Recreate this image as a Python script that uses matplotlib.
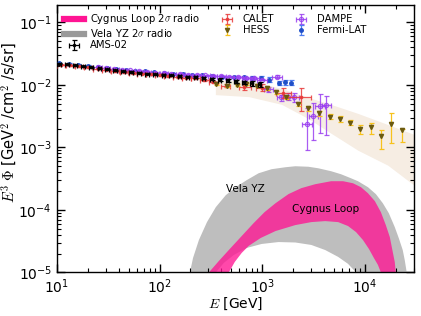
import numpy as np
import matplotlib
matplotlib.use("Agg")
from matplotlib import pyplot as plt
from matplotlib.lines import Line2D

plt.rcParams['mathtext.fontset'] = 'cm'
plt.rcParams['font.family'] = 'DejaVu Sans'

# ---- radio bands (E in GeV, E^3 Phi in GeV^2/cm^2/s/sr) ----
vela_hi_E = [198, 212, 242, 290, 354, 442, 553, 706, 923, 1233, 1686, 2105, 2813, 3517,
             4698, 5870, 7330, 8570, 10720, 12800, 14960, 17100, 19550, 21380, 23380, 24450, 25570]
vela_hi = [1.0e-5, 1.7e-5, 3.3e-5, 6.38e-5, 1.11e-4, 1.72e-4, 2.31e-4, 2.99e-4, 3.86e-4,
           4.48e-4, 4.82e-4, 5.0e-4, 4.91e-4, 4.64e-4, 4.16e-4, 3.72e-4, 3.21e-4, 2.88e-4,
           2.31e-4, 1.79e-4, 1.28e-4, 8.89e-5, 5.32e-5, 3.55e-5, 2.28e-5, 1.58e-5, 1.0e-5]
vela_lo_E = [354, 423, 529, 706, 987, 1442, 2105, 3008, 4110, 5495, 6860, 8200]
vela_lo = [1.0e-5, 1.42e-5, 1.9e-5, 2.46e-5, 2.85e-5, 3.06e-5, 3.01e-5, 2.75e-5, 2.28e-5,
           1.77e-5, 1.37e-5, 1.0e-5]

cyg_hi_E = [303, 378, 473, 632, 826, 1055, 1349, 1803, 2405, 3289, 4698, 6140, 7670, 9170,
            10720, 12530, 14320, 16000, 17500, 18700, 19550, 20000]
cyg_hi = [1.0e-5, 1.52e-5, 2.28e-5, 3.82e-5, 6.15e-5, 9.22e-5, 1.28e-4, 1.79e-4, 2.23e-4,
          2.58e-4, 2.88e-4, 2.88e-4, 2.67e-4, 2.31e-4, 1.85e-4, 1.38e-4, 9.22e-5, 5.72e-5,
          3.68e-5, 2.12e-5, 1.47e-5, 1.0e-5]
cyg_lo_E = [473, 541, 632, 738, 966, 1349, 2105, 3008, 4110, 5495, 6860, 8200, 9580, 10960,
            12250, 13400, 14320]
cyg_lo = [1.0e-5, 1.47e-5, 2.05e-5, 2.65e-5, 3.55e-5, 4.59e-5, 5.72e-5, 6.38e-5, 6.62e-5,
          6.38e-5, 5.52e-5, 4.42e-5, 3.3e-5, 2.37e-5, 1.7e-5, 1.32e-5, 1.0e-5]

# ---- HESS systematic band ----
hess_band_E = [350, 740, 1540, 2810, 4400, 8570, 16700, 30000]
hess_band_hi = [0.0118, 0.0118, 8.8e-3, 6.3e-3, 5.05e-3, 3.5e-3, 2.33e-3, 1.62e-3]
hess_band_lo = [7.0e-3, 6.5e-3, 4.9e-3, 2.9e-3, 1.8e-3, 9.0e-4, 5.2e-4, 2.5e-4]

# ---- AMS-02 ----
ams_E = [10.5, 12.5, 15, 18, 21.5, 26, 31, 37, 44, 53, 63, 76, 91, 109, 130, 156, 187,
         224, 268, 321, 384, 460, 550, 660, 790, 945]
ams_F = [2.20, 2.13, 2.06, 1.99, 1.92, 1.85, 1.78, 1.72, 1.66, 1.61, 1.56, 1.52, 1.48,
         1.45, 1.42, 1.39, 1.36, 1.33, 1.30, 1.26, 1.22, 1.18, 1.14, 1.10, 1.06, 1.02]
ams_rel = [0.02] * 14 + [0.025, 0.025, 0.03, 0.03, 0.035, 0.04, 0.045, 0.05, 0.06, 0.07, 0.08, 0.1]

# ---- CALET ----
calet_E = [11, 13.5, 16.5, 20, 25, 30, 37, 45, 55, 67, 82, 100, 122, 150, 183, 224, 274,
           335, 440, 660, 1000, 1610, 2400]
calet_F = [2.12, 2.05, 1.98, 1.91, 1.83, 1.76, 1.69, 1.63, 1.57, 1.52, 1.47, 1.43, 1.39,
           1.35, 1.31, 1.27, 1.20, 1.12, 0.98, 0.92, 0.90, 0.73, 0.63]
calet_lo = [0.97 * f for f in calet_F[:18]] + [0.92, 0.84, 0.80, 0.61, 0.39]
calet_hi = [1.03 * f for f in calet_F[:18]] + [1.04, 1.00, 1.02, 0.89, 0.88]
calet_Elo = [0.91 * e for e in calet_E[:18]] + [400, 590, 870, 1377, 1800]
calet_Ehi = [1.10 * e for e in calet_E[:18]] + [490, 770, 1150, 1928, 3000]

# ---- HESS ----
hess_E = [354, 452, 565, 690, 882, 1104, 1378, 1722, 2249, 2813, 3593, 4595, 5745,
          7180, 8980, 11460, 14320, 17900, 22860]
hess_F = [0.0105, 0.0098, 0.0101, 0.0105, 0.0098, 0.0088, 0.0076, 0.0063, 0.0049,
          0.0042, 0.0035, 0.0031, 0.0029, 0.0025, 0.0020, 0.0021, 0.0015, 0.0024, 0.0019]
hess_lo = [0.0101, 0.0094, 0.0097, 0.0101, 0.0094, 0.0084, 0.0072, 0.0060, 0.0046,
           0.0039, 0.0032, 0.0028, 0.0026, 0.00225, 0.00166, 0.00166, 0.00096, 0.00117, 0.00122]
hess_hi = [0.0109, 0.0102, 0.0105, 0.0109, 0.0102, 0.0092, 0.0080, 0.0066, 0.0052,
           0.0045, 0.0038, 0.0034, 0.0032, 0.00275, 0.00225, 0.00249, 0.00192, 0.00354, 0.0020]

# ---- DAMPE ----
dampe_E = [25, 30, 36, 43, 52, 63, 75, 91, 110, 130, 160, 190, 230, 280, 330, 400, 480,
           580, 700, 840, 1000, 1150, 1400, 1540, 1780, 2050, 2740, 3160, 3650, 4220]
dampe_F = [1.93e-2, 1.87e-2, 1.81e-2, 1.76e-2, 1.71e-2, 1.66e-2, 1.62e-2, 1.58e-2, 1.55e-2,
           1.52e-2, 1.49e-2, 1.46e-2, 1.44e-2, 1.42e-2, 1.40e-2, 1.38e-2, 1.36e-2, 1.33e-2,
           1.30e-2, 1.28e-2, 1.22e-2, 8.5e-3, 1.36e-2, 6.3e-3, 6.5e-3, 6.3e-3, 2.33e-3,
           3.13e-3, 4.53e-3, 4.69e-3]
dampe_lo = [0.97 * f for f in dampe_F[:21]] + [7.8e-3, 1.28e-2, 5.6e-3, 5.7e-3, 5.3e-3,
                                                9.0e-4, 1.30e-3, 1.68e-3, 1.56e-3]
dampe_hi = [1.03 * f for f in dampe_F[:21]] + [9.2e-3, 1.44e-2, 7.0e-3, 7.3e-3, 7.3e-3,
                                                4.21e-3, 5.05e-3, 7.29e-3, 6.77e-3]

# ---- Fermi-LAT ----
fermi_E = [10.5, 13, 16, 20, 25, 31, 38, 47, 58, 72, 89, 110, 136, 168, 208, 257, 324,
           405, 529, 661, 789, 966, 1154, 1442, 1686, 1928]
fermi_F = [2.24, 2.17, 2.10, 2.03, 1.96, 1.89, 1.82, 1.76, 1.70, 1.65, 1.60, 1.56, 1.52,
           1.48, 1.45, 1.42, 1.39, 1.36, 1.34, 1.32, 1.31, 1.30, 1.22, 1.09, 1.10, 1.09]
fermi_rel = [0.02] * 16 + [0.03, 0.03, 0.04, 0.05, 0.06, 0.07, 0.08, 0.08, 0.09, 0.1]


def asym(v, lo, hi):
    v = np.asarray(v)
    return [v - np.asarray(lo), np.asarray(hi) - v]


fig = plt.figure(figsize=(4.21, 3.16), dpi=100)
ax = fig.add_axes([0.135, 0.138, 0.848, 0.846])
ax.set_xscale('log')
ax.set_yscale('log')

# radio bands
ax.fill(list(vela_hi_E) + vela_lo_E[::-1], list(vela_hi) + vela_lo[::-1],
        color='#bebebe', lw=0, zorder=1)
ax.fill(list(cyg_hi_E) + cyg_lo_E[::-1], list(cyg_hi) + cyg_lo[::-1],
        color='deeppink', alpha=0.78, lw=0, zorder=2)
ax.text(690, 2.2e-4, 'Vela YZ', fontsize=7.5, ha='center', va='center')
ax.text(4110, 1.03e-4, 'Cygnus Loop', fontsize=7.5, ha='center', va='center')

# HESS band
ax.fill_between(hess_band_E, hess_band_lo, hess_band_hi, color='#f6ede3', lw=0, zorder=1)

eb_kw = dict(capsize=1.8, elinewidth=0.9, capthick=0.9, ls='none')

fermi_F = np.array(fermi_F) * 1e-2
h_fermi = ax.errorbar(fermi_E, fermi_F, yerr=fermi_F * np.array(fermi_rel), fmt='o', ms=2.5,
                      color='#1f4fc8', ecolor='#4d7cf0', zorder=3, **eb_kw)

dampe_E = np.array(dampe_E)
h_dampe = ax.errorbar(dampe_E, dampe_F, yerr=asym(dampe_F, dampe_lo, dampe_hi),
                      xerr=[dampe_E * 0.1, dampe_E * 0.11], fmt='o', ms=3, mfc='none',
                      mew=0.9, color='#9a3ff0', alpha=0.85, zorder=4, **eb_kw)

calet_F = np.array(calet_F) * 1e-2
h_calet = ax.errorbar(calet_E, calet_F,
                      yerr=asym(calet_F, np.array(calet_lo) * 1e-2, np.array(calet_hi) * 1e-2),
                      xerr=asym(calet_E, calet_Elo, calet_Ehi), fmt='s', ms=1.5,
                      color='#e83a3a', alpha=0.85, zorder=5, **eb_kw)

h_hess = ax.errorbar(hess_E, hess_F, yerr=asym(hess_F, hess_lo, hess_hi), fmt='v', ms=3,
                     mfc='#6b5a10', mec='#6b5a10', ecolor='#f7c21c', zorder=6, **eb_kw)

ams_E = np.array(ams_E)
ams_F = np.array(ams_F) * 1e-2
h_ams = ax.errorbar(ams_E, ams_F, yerr=ams_F * np.array(ams_rel),
                    xerr=[ams_E * 0.04, ams_E * 0.04], fmt='o', ms=1.5,
                    color='black', zorder=7, **eb_kw)

h_cyg = Line2D([], [], color='deeppink', lw=4.5)
h_vela = Line2D([], [], color='#999999', lw=4.5)

ax.legend([h_cyg, h_vela, h_ams, h_calet, h_hess, h_dampe, h_fermi],
          [r'Cygnus Loop 2$\sigma$ radio', r'Vela YZ 2$\sigma$ radio', 'AMS-02',
           'CALET', 'HESS', 'DAMPE', 'Fermi-LAT'],
          loc='upper left', ncol=3, frameon=False, fontsize=7.2,
          handlelength=2.0, columnspacing=1.7, labelspacing=0.12,
          borderaxespad=0.3, handletextpad=0.6)

ax.set_xlim(10, 3e4)
ax.set_ylim(1e-5, 0.19)
ax.tick_params(which='both', direction='in', top=True, right=True, labelsize=10)
ax.tick_params(which='major', length=6, width=1.0)
ax.tick_params(which='minor', length=3, width=0.8)
for s in ax.spines.values():
    s.set_linewidth(1.0)

ax.set_xlabel(r'$E$ [GeV]', fontsize=10, labelpad=0)
ax.set_ylabel(r'$E^3\;\Phi$ [GeV$^2$ /cm$^2$ /s/sr]', fontsize=10.5)
ax.yaxis.set_label_coords(-0.105, 0.56)

fig.savefig('out.png', dpi=100)
